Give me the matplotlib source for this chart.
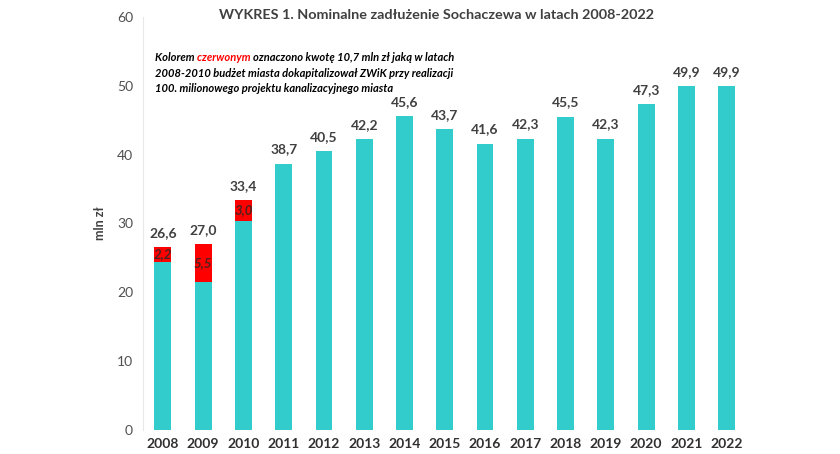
import matplotlib.pyplot as plt
import numpy as np

plt.rcParams['font.family'] = ['Lato', 'DejaVu Sans']

# dane
years = ['2008', '2009', '2010', '2011', '2012', '2013', '2014', '2015',
         '2016', '2017', '2018', '2019', '2020', '2021', '2022']
totals = [26.6, 27.0, 33.4, 38.7, 40.5, 42.2, 45.6, 43.7,
          41.6, 42.3, 45.5, 42.3, 47.3, 49.9, 49.9]
zwik = [2.2, 5.5, 3.0, 0, 0, 0, 0, 0, 0, 0, 0, 0, 0, 0, 0]
base = [t - z for t, z in zip(totals, zwik)]

teal = '#33CCCC'
red = '#FF0000'
txt = '#404040'

fig = plt.figure(figsize=(8.4, 4.54), dpi=100)
ax = fig.add_axes([0.170, 0.053, 0.719, 0.9096])

x = np.arange(len(years))
ax.bar(x, base, width=0.42, color=teal)
ax.bar(x, zwik, width=0.42, bottom=base, color=red)

for i, (t, z, b) in enumerate(zip(totals, zwik, base)):
    ax.text(i, t + 1.2, f'{t:.1f}'.replace('.', ','), ha='center', va='bottom',
            fontsize=10, fontweight='bold', color=txt)
    if z > 0:
        ax.text(i, b + z / 2, f'{z:.1f}'.replace('.', ','), ha='center', va='center',
                fontsize=9.5, fontweight='bold', fontstyle='italic', color='#502020')

ax.set_xlim(-0.5, len(years) - 0.5)
ax.set_ylim(0, 60)
ax.set_yticks(range(0, 61, 10))
ax.set_xticks(x)
ax.set_xticklabels(years, fontweight='bold', fontsize=10, color='#303030')
ax.tick_params(axis='y', length=0, labelsize=10, labelcolor='#505050', pad=7)
ax.tick_params(axis='x', length=0, pad=6)
ax.set_ylabel('mln zł', fontsize=9, fontweight='bold', color='#404040', labelpad=8)

for s in ['top', 'right', 'bottom']:
    ax.spines[s].set_visible(False)
ax.spines['left'].set_color('#E8E8E8')

fig.text(0.52, 0.967, 'WYKRES 1. Nominalne zadłużenie Sochaczewa w latach 2008-2022',
         ha='center', va='center', fontsize=10.4, fontweight='bold', color='#404040')

# opis
lines = ['oznaczono kwotę 10,7 mln zł jaką w latach',
         '2008-2010 budżet miasta dokapitalizował ZWiK przy realizacji',
         '100. milionowego projektu kanalizacyjnego miasta']
fs = 8.0
y0 = 0.874
dy = 0.035
t1 = fig.text(0.185, y0, 'Kolorem ', fontsize=fs, fontweight='bold', fontstyle='italic', va='center')
fig.canvas.draw()
r = fig.canvas.get_renderer()
bb = t1.get_window_extent(r)
t2 = fig.text(bb.x1 / fig.bbox.width, y0, 'czerwonym ', fontsize=fs, fontweight='bold',
              fontstyle='italic', color=red, va='center')
bb2 = t2.get_window_extent(r)
fig.text(bb2.x1 / fig.bbox.width, y0, lines[0], fontsize=fs, fontweight='bold',
         fontstyle='italic', va='center')
fig.text(0.185, y0 - dy, lines[1], fontsize=fs, fontweight='bold', fontstyle='italic', va='center')
fig.text(0.185, y0 - 2 * dy, lines[2], fontsize=fs, fontweight='bold', fontstyle='italic', va='center')

fig.savefig('out.png', dpi=100, facecolor='white')
